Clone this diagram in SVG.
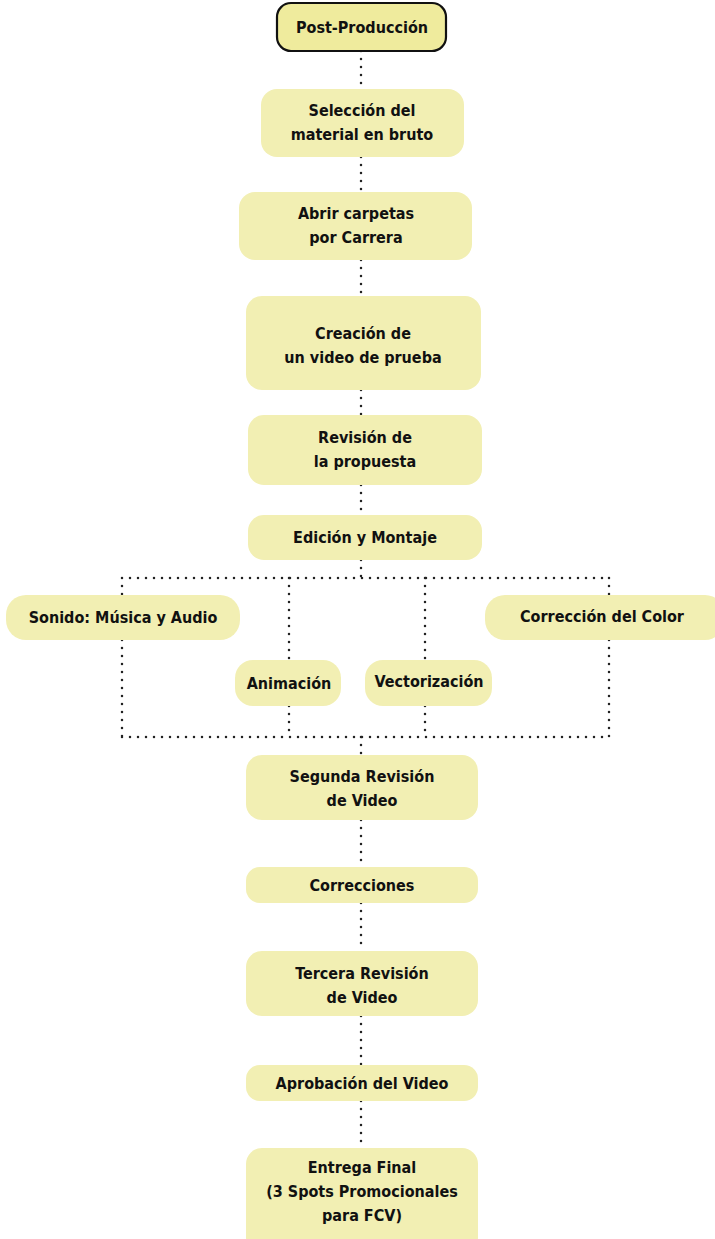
<svg xmlns="http://www.w3.org/2000/svg" width="715" height="1239" viewBox="0 0 715 1239">
<style>
.n{fill:#f2efb3;}
.t{font-family:"DejaVu Sans Condensed","DejaVu Sans",sans-serif;font-stretch:condensed;font-weight:bold;font-size:16px;fill:#111;text-anchor:middle;}
.c{fill:none;stroke:#222;stroke-width:2.5;stroke-dasharray:0 8;stroke-linecap:round;}
</style>
<rect width="715" height="1239" fill="#fff"/>
<g id="connectors">
<path class="c" d="M361 51V89M361 157V192M361 260V296M361 390V415M361 485V515M361 560V578M122 578H609M122 578V595M122 640V737M289 578V660M289 706V737M425 578V660M425 706V737M609 578V595M609 640V737M122 737H609M361 737V755M361 820V867M361 903V951M361 1016V1065M361 1101V1148"/>
</g>
<g id="n1"><rect x="277" y="3" width="169" height="48" rx="14" fill="#efeb9d" stroke="#111" stroke-width="2.2"/><text class="t" x="362" y="33">Post-Producción</text></g>
<g id="n2"><rect class="n" x="261" y="89" width="203" height="68" rx="16"/><text class="t" x="362" y="116">Selección del</text><text class="t" x="362" y="140">material en bruto</text></g>
<g id="n3"><rect class="n" x="239" y="192" width="233" height="68" rx="16"/><text class="t" x="356" y="219">Abrir carpetas</text><text class="t" x="356" y="243">por Carrera</text></g>
<g id="n4"><rect class="n" x="246" y="296" width="235" height="94" rx="16"/><text class="t" x="363" y="339">Creación de</text><text class="t" x="363" y="363">un video de prueba</text></g>
<g id="n5"><rect class="n" x="248" y="415" width="234" height="70" rx="16"/><text class="t" x="365" y="443">Revisión de</text><text class="t" x="365" y="467">la propuesta</text></g>
<g id="n6"><rect class="n" x="248" y="515" width="234" height="45" rx="16"/><text class="t" x="365" y="543">Edición y Montaje</text></g>
<g id="n7"><rect class="n" x="6" y="595" width="234" height="45" rx="20"/><text class="t" x="123" y="623">Sonido: Música y Audio</text></g>
<g id="n8"><rect class="n" x="235" y="660" width="106" height="46" rx="18"/><text class="t" x="289" y="689">Animación</text></g>
<g id="n9"><rect class="n" x="365" y="660" width="127" height="46" rx="18"/><text class="t" x="429" y="687">Vectorización</text></g>
<g id="n10"><rect class="n" x="485" y="595" width="240" height="45" rx="20"/><text class="t" x="602" y="622">Corrección del Color</text></g>
<g id="n11"><rect class="n" x="246" y="755" width="232" height="65" rx="16"/><text class="t" x="362" y="782">Segunda Revisión</text><text class="t" x="362" y="806">de Video</text></g>
<g id="n12"><rect class="n" x="246" y="867" width="232" height="36" rx="14"/><text class="t" x="362" y="891">Correcciones</text></g>
<g id="n13"><rect class="n" x="246" y="951" width="232" height="65" rx="16"/><text class="t" x="362" y="979">Tercera Revisión</text><text class="t" x="362" y="1003">de Video</text></g>
<g id="n14"><rect class="n" x="246" y="1065" width="232" height="36" rx="14"/><text class="t" x="362" y="1089">Aprobación del Video</text></g>
<g id="n15"><rect class="n" x="246" y="1148" width="232" height="105" rx="16"/><text class="t" x="362" y="1173">Entrega Final</text><text class="t" x="362" y="1197">(3 Spots Promocionales</text><text class="t" x="362" y="1221">para FCV)</text></g>
</svg>
